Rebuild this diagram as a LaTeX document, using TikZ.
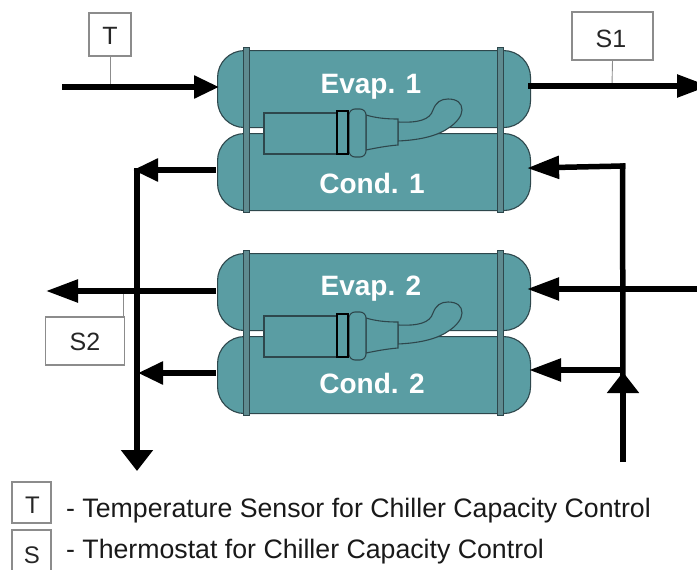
\documentclass[tikz,border=0pt]{standalone}
\usepackage{fontspec}
\setmainfont{Liberation Sans}
\usetikzlibrary{arrows.meta}
\definecolor{shell}{HTML}{5A9DA3}
\definecolor{edge}{HTML}{2E474C}
\definecolor{flange}{HTML}{5F8B90}
\definecolor{boxline}{HTML}{8C8C8C}
\tikzset{
  vessel/.style={draw=edge,line width=1.1pt,fill=shell,rounded corners=27pt,minimum width=313pt,minimum height=77pt,inner sep=0pt,anchor=north west},
  vessellabel/.style={anchor=base,inner sep=0pt,text=white,font=\bfseries\fontsize{28}{28}\selectfont},
  sensorbox/.style={draw=boxline,line width=1.4pt,fill=white,inner sep=0pt},
  sensorlabel/.style={anchor=base,inner sep=0pt,font=\fontsize{25}{25}\selectfont,text=black!85},
  keylabel/.style={anchor=base,inner sep=0pt,font=\fontsize{24}{24}\selectfont,text=black!85},
  sensorline/.style={draw=boxline,line width=0.9pt},
  flow/.style={line width=5.5pt,-{Triangle[length=32pt,width=22pt]}},
  shortflow/.style={line width=5.5pt,-{Triangle[length=25pt,width=22pt]}},
  bigflow/.style={line width=5.5pt,-{Triangle[length=21pt,width=31pt]}},
  pipe/.style={line width=5.5pt},
  legendtext/.style={anchor=base west,inner sep=0pt,font=\fontsize{26.7}{26.7}\selectfont,text=black!90},
  part/.style={draw=edge,line width=1.1pt,fill=shell},
}
\newcommand{\chiller}[4]{%
  % #1 index, #2 evap top, #3 cond top, #4 compressor y offset
  \node[vessel] (evap#1) at (217,#2) {};
  \node[vessel] (cond#1) at (217,#3) {};
  \foreach \fx in {246.7,500.5}{
    \draw[draw=edge,line width=1pt,fill=flange] (\fx-3.2,#2-3) rectangle (\fx+3.2,#3+79);
  }
  \begin{scope}[shift={(0,#4)}]
    \draw[part] (398,122) .. controls (418,123) and (430,120) .. (433,110)
      .. controls (436,102) and (441,99) .. (448,99) .. controls (457,99) and (462,103) .. (462,110)
      .. controls (462,116) and (456,123) .. (450,127) .. controls (438,136) and (420,140) .. (398,141) -- cycle;
    \draw[part] (366,115) .. controls (376,118) and (386,119) .. (398,119) -- (398,145)
      .. controls (386,146) and (376,148) .. (366,150) -- cycle;
    \draw[part] (264,113) rectangle (338,154);
    \draw[part,rounded corners=6pt] (349,109) rectangle (366,157);
    \draw[line width=1.4pt,draw=black,fill=shell] (337,111) rectangle (348,154);
  \end{scope}
}
\begin{document}
\begin{tikzpicture}[x=1pt,y=-1pt]
\useasboundingbox (0,0) rectangle (697,570);
\clip (0,0) rectangle (697,570);
\chiller{1}{50}{133}{0}
\chiller{2}{253}{336}{203}
\node[vessellabel] (tE1) at (371,93) {Evap. 1};
\node[vessellabel] (tC1) at (372,193) {Cond. 1};
\node[vessellabel] (tE2) at (371,295) {Evap. 2};
\node[vessellabel] (tC2) at (372,393) {Cond. 2};

\node[sensorbox,minimum width=42pt,minimum height=43pt] (T) at (110,34.5) {};
\node[sensorbox,minimum width=81pt,minimum height=48pt] (S1) at (612.5,36) {};
\node[sensorbox,minimum width=79pt,minimum height=48pt] (S2) at (85,341) {};
\node[sensorbox,minimum width=39pt,minimum height=41pt] (Tk) at (31.5,502.5) {};
\node[sensorbox,minimum width=39pt,minimum height=50pt] (Sk) at (31.5,555) {};
\node[sensorlabel] (TL) at (110,45) {T};
\node[sensorlabel] (S1L) at (611,47) {S1};
\node[sensorlabel] (S2L) at (85,350) {S2};
\node[keylabel] (TkL) at (32.5,513) {T};
\node[keylabel] (SkL) at (32,563) {S};

\coordinate (Tin) at (62,87);
\coordinate (Ttap) at (110,87);
\coordinate (S1out) at (709,86);
\coordinate (S1tap) at (612,86);
\coordinate (S2tap) at (123,291);
\coordinate (Mleft) at (135,170);
\coordinate (Mbottom) at (137,470);
\coordinate (C2in) at (140,373);
\coordinate (E2out) at (48,291);
\coordinate (Rbottom) at (623,462);
\coordinate (Rtip) at (623,372);
\coordinate (Rtop) at (622.5,166);
\coordinate (Rright) at (697,289);
\coordinate (Rmid) at (623,370);

\draw[sensorline] (T.south) -- (Ttap);
\draw[sensorline] (S1.south) -- (S1tap);
\draw[sensorline] (S2.north -| S2tap) -- (S2tap);

\draw[shortflow,shorten >=-2pt] (Tin) -- (evap1.west |- Tin);
\draw[flow,shorten <=-3pt] (evap1.east |- S1out) -- (S1out);
\draw[shortflow,shorten <=1pt,shorten >=-2pt] (cond1.west |- Mleft) -- (Mleft);
\draw[pipe] (137,167.5) -- (137,450);
\draw[bigflow,shorten >=-1pt] (137,448) -- (Mbottom);
\draw[flow,shorten <=1pt,shorten >=-2pt] (evap2.west |- E2out) -- (E2out);
\draw[shortflow,shorten <=1pt,shorten >=-2pt] (cond2.west |- C2in) -- (C2in);
\draw[pipe] (622.5,163.25) -- (623,380);
\draw[flow,shorten >=-4pt] (625.25,166) -- (Rtop) -- (cond1.east |- 0,168);
\draw[flow,shorten >=-4pt] (Rright) -- (evap2.east |- Rright);
\draw[flow,shorten >=-2pt] (Rmid) -- (cond2.east |- Rmid);
\draw[bigflow] (Rbottom) -- (Rtip);

\node[legendtext] (L1) at (66,517) {- Temperature Sensor for Chiller Capacity Control};
\node[legendtext] (L2) at (66,558) {- Thermostat for Chiller Capacity Control};
\end{tikzpicture}
\end{document}
